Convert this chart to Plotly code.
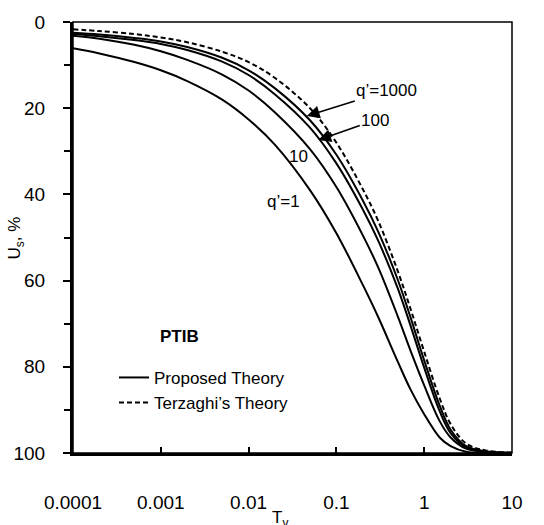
import plotly.graph_objects as go
import math

# Time factor values (log axis)
Tv = [0.0001, 0.0002, 0.0005, 0.001, 0.002, 0.005, 0.01, 0.02, 0.05, 0.1,
      0.2, 0.3, 0.5, 0.7, 1, 1.5, 2, 3, 5, 10]

# Degree of settlement Us (%) for the proposed theory, per q'
Us_q1 = [6.1, 7.3, 9.3, 11.2, 13.7, 18.0, 22.6, 28.5, 39.0, 49.0,
         61.0, 68.5, 78.8, 85.3, 91.0, 96.4, 98.4, 99.7, 99.95, 100]
Us_q10 = [3.2, 3.9, 5.3, 6.8, 8.8, 12.2, 15.9, 21.0, 29.5, 38.3,
          49.5, 57.0, 68.3, 76.3, 84.3, 92.6, 96.4, 99.0, 99.8, 100]
Us_q100 = [2.8, 3.3, 4.2, 5.1, 6.5, 9.2, 12.3, 16.8, 24.5, 32.8,
           43.5, 50.8, 61.8, 70.5, 80.2, 90.3, 95.4, 98.7, 99.7, 99.95]
Us_q1000 = [2.5, 2.9, 3.7, 4.5, 5.8, 8.3, 11.2, 15.4, 22.8, 30.8,
            41.4, 48.7, 59.8, 68.6, 78.5, 89.0, 94.6, 98.4, 99.6, 99.95]
# Terzaghi's theory
Us_terz = [1.7, 2.1, 2.8, 3.6, 4.7, 6.9, 9.3, 13.0, 20.0, 28.0,
           38.8, 46.2, 57.8, 66.6, 76.5, 87.3, 93.3, 97.8, 99.4, 99.9]

x_ticks = [0.0001, 0.001, 0.01, 0.1, 1, 10]
x_ticktext = ["0.0001", "0.001", "0.01", "0.1", "1", "10"]
y_ticks = [0, 20, 40, 60, 80, 100]
y_minor = [10, 30, 50, 70, 90]

FONT = "Arial, Liberation Sans, sans-serif"

fig = go.Figure()

solid = dict(color="black", width=2, shape="spline", smoothing=1.0)
fig.add_trace(go.Scatter(x=Tv, y=Us_q1, mode="lines", line=solid, name="Proposed Theory", showlegend=True))
fig.add_trace(go.Scatter(x=Tv, y=Us_q10, mode="lines", line=solid, showlegend=False))
fig.add_trace(go.Scatter(x=Tv, y=Us_q100, mode="lines", line=solid, showlegend=False))
fig.add_trace(go.Scatter(x=Tv, y=Us_q1000, mode="lines", line=solid, showlegend=False))
fig.add_trace(go.Scatter(x=Tv, y=Us_terz, mode="lines",
                         line=dict(color="black", width=2, dash="5px,3px", shape="spline", smoothing=1.0),
                         name="Terzaghi\u2019s Theory", showlegend=True))

lab_font = dict(family=FONT, size=17, color="black")
fig.add_annotation(x=math.log10(0.046), y=21.8, text="q\u2019=1000", showarrow=True,
                   ax=80, ay=-25, arrowhead=2, arrowsize=1.6, arrowwidth=1.6,
                   arrowcolor="black", font=lab_font)
fig.add_annotation(x=math.log10(0.0622), y=27.4, text="100", showarrow=True,
                   ax=57, ay=-20, arrowhead=2, arrowsize=1.6, arrowwidth=1.6,
                   arrowcolor="black", font=lab_font)
fig.add_annotation(x=math.log10(0.0366), y=31.3, text="10", showarrow=False, font=lab_font)
fig.add_annotation(x=math.log10(0.0253), y=41.7, text="q\u2019=1", showarrow=False, font=lab_font)
fig.add_annotation(x=math.log10(0.00163), y=73.0, text="<b>PTIB</b>", showarrow=False,
                   font=dict(family="Arial Black, Liberation Sans, sans-serif", size=17, color="black"))

# axis titles
fig.add_annotation(xref="paper", yref="paper", x=0.4715, y=-0.122, yanchor="top",
                   text="T<sub>v</sub>", showarrow=False, font=dict(family=FONT, size=17, color="black"))
fig.add_annotation(xref="paper", yref="paper", x=-0.13, y=0.5, xanchor="center", yanchor="middle",
                   text="U<sub>s</sub>, %", textangle=-90, showarrow=False,
                   font=dict(family=FONT, size=17, color="black"))

# thin frame (top/right)
fig.add_shape(type="rect", xref="paper", yref="paper", x0=0, y0=0, x1=1, y1=1,
              line=dict(color="black", width=1.5), layer="above")

fig.update_layout(
    width=544, height=525, autosize=False,
    margin=dict(l=73, r=32, t=15, b=66),
    paper_bgcolor="white", plot_bgcolor="white",
    font=dict(family=FONT, size=18, color="black"),
    legend=dict(x=0.0934, y=0.216, xanchor="left", yanchor="top",
                bgcolor="rgba(0,0,0,0)", font=dict(family=FONT, size=17, color="black"),
                tracegroupgap=0),
)
fig.update_xaxes(type="log", range=[-4, 1], tickvals=x_ticks, ticktext=x_ticktext,
                 showgrid=False, zeroline=False, showline=True, linecolor="black", linewidth=3,
                 ticks="inside", ticklen=6, tickwidth=1.5, tickcolor="black",
                 ticklabelstandoff=30, tickfont=dict(family=FONT, size=19, color="black"))
fig.update_yaxes(range=[100, 0], tickvals=y_ticks, showgrid=False, zeroline=False,
                 showline=True, linecolor="black", linewidth=3,
                 ticks="outside", ticklen=7, tickwidth=1.5, tickcolor="black",
                 minor=dict(tickvals=y_minor, ticks="outside", ticklen=6,
                            tickwidth=1.5, tickcolor="black", showgrid=False),
                 ticklabelstandoff=14, tickfont=dict(family=FONT, size=19, color="black"))

fig.write_html("out.html")
